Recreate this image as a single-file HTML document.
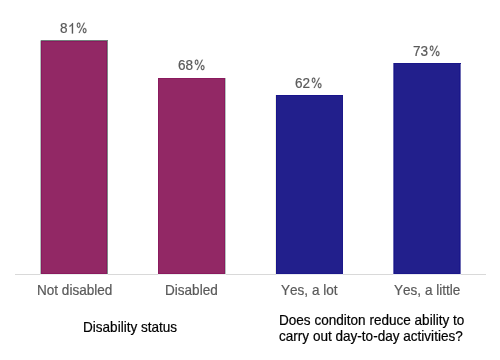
<!DOCTYPE html>
<html><head><meta charset="utf-8">
<style>
html,body{margin:0;padding:0;background:#fff;}
body{width:500px;height:360px;position:relative;overflow:hidden;font-family:"Liberation Sans",sans-serif;}
.r{position:absolute;}
.t{position:absolute;white-space:nowrap;line-height:1;font-size:13.55px;will-change:transform;transform:scaleY(1.07);transform-origin:0 11.47px;height:13.55px;}
.t i{position:absolute;top:0;font-style:normal;}
.g{color:#595959;-webkit-text-stroke:0.2px #595959;}
.k{color:#000;-webkit-text-stroke:0.2px #000;}
</style></head><body>

<!-- axis -->
<div class="r" style="left:15px;top:274px;width:471px;height:1px;background:#d9d9d9;"></div>

<!-- bar 1 -->
<div class="r" style="left:40px;top:40px;width:68px;height:234px;background:#922865;"></div>
<div class="r" style="left:41px;top:41px;width:66px;height:233px;box-shadow:inset 1px 1px 0 #8a1a5e,inset -1px -1px 0 #8a1a5e;"></div>
<div class="r" style="left:41px;top:40px;width:67px;height:1px;background:#72807b;"></div>
<div class="r" style="left:40px;top:40px;width:1px;height:1px;background:#d3dbd8;"></div>
<div class="r" style="left:40px;top:41px;width:1px;height:233px;background:#b3c1bc;"></div>
<div class="r" style="left:107px;top:41px;width:1px;height:233px;background:#7e8b87;"></div>
<div class="r" style="left:40px;top:274px;width:68px;height:1px;background:#eaefed;"></div>

<!-- bar 2 -->
<div class="r" style="left:158px;top:78px;width:67px;height:196px;background:#922865;box-shadow:inset 1px 1px 0 #8a1a5e,inset -1px -1px 0 #8a1a5e;"></div>
<div class="r" style="left:225px;top:78px;width:1px;height:196px;background:#b7c4c0;"></div>
<div class="r" style="left:158px;top:274px;width:68px;height:1px;background:#eaefed;"></div>

<!-- bar 3 -->
<div class="r" style="left:275px;top:95px;width:1px;height:179px;background:#f1f1e4;"></div>
<div class="r" style="left:276px;top:95px;width:67px;height:179px;background:#221f8c;box-shadow:inset 1px 1px 0 #18148c,inset -1px -1px 0 #1c198a;"></div>
<div class="r" style="left:276px;top:274px;width:67px;height:1px;background:#e8e8f0;"></div>

<!-- bar 4 -->
<div class="r" style="left:393px;top:63px;width:68px;height:211px;background:#221f8c;box-shadow:inset 1px 0 0 #6b69b4,inset 2px 1px 0 #1a178a,inset -1px 0 0 #6e6cb4,inset -2px -1px 0 #1a178a;"></div>
<div class="r" style="left:393px;top:274px;width:68px;height:1px;background:#e8e8f0;"></div>

<div class="t g" style="left:60.16px;top:21.53px;"><i style="left:0.00px">8</i><svg style="position:absolute;left:7.54px;top:0;overflow:visible" width="8" height="14"><path transform="translate(0,11.473) scale(0.006616,-0.006616)" d="M763 0L583 0L583 1147Q518 1085 412 1023Q306 961 222 930L222 1104Q373 1175 486 1276Q599 1377 646 1472L763 1472Z" fill="currentColor" stroke="currentColor" stroke-width="30"/></svg><svg style="position:absolute;left:15.07px;top:0;overflow:visible" width="14" height="14"><path transform="translate(0,11.473) scale(0.006616,-0.006616)" fill-rule="nonzero" d="M260 1170A285 390 0 1 0 830 1170A285 390 0 1 0 260 1170ZM405 1170A140 245 0 1 1 685 1170A140 245 0 1 1 405 1170ZM1165 410A290 370 0 1 0 1745 410A290 370 0 1 0 1165 410ZM1310 410A145 225 0 1 1 1600 410A145 225 0 1 1 1310 410ZM545 70L695 70L1490 1520L1340 1520Z" fill="currentColor" stroke="currentColor" stroke-width="30"/></svg></div>
<div class="t g" style="left:177.71px;top:58.53px;"><i style="left:0.00px">6</i><i style="left:7.54px">8</i><svg style="position:absolute;left:15.07px;top:0;overflow:visible" width="14" height="14"><path transform="translate(0,11.473) scale(0.006616,-0.006616)" fill-rule="nonzero" d="M260 1170A285 390 0 1 0 830 1170A285 390 0 1 0 260 1170ZM405 1170A140 245 0 1 1 685 1170A140 245 0 1 1 405 1170ZM1165 410A290 370 0 1 0 1745 410A290 370 0 1 0 1165 410ZM1310 410A145 225 0 1 1 1600 410A145 225 0 1 1 1310 410ZM545 70L695 70L1490 1520L1340 1520Z" fill="currentColor" stroke="currentColor" stroke-width="30"/></svg></div>
<div class="t g" style="left:295.41px;top:76.53px;"><i style="left:0.00px">6</i><i style="left:7.54px">2</i><svg style="position:absolute;left:15.07px;top:0;overflow:visible" width="14" height="14"><path transform="translate(0,11.473) scale(0.006616,-0.006616)" fill-rule="nonzero" d="M260 1170A285 390 0 1 0 830 1170A285 390 0 1 0 260 1170ZM405 1170A140 245 0 1 1 685 1170A140 245 0 1 1 405 1170ZM1165 410A290 370 0 1 0 1745 410A290 370 0 1 0 1165 410ZM1310 410A145 225 0 1 1 1600 410A145 225 0 1 1 1310 410ZM545 70L695 70L1490 1520L1340 1520Z" fill="currentColor" stroke="currentColor" stroke-width="30"/></svg></div>
<div class="t g" style="left:413.31px;top:44.53px;"><i style="left:0.00px">7</i><i style="left:7.54px">3</i><svg style="position:absolute;left:15.07px;top:0;overflow:visible" width="14" height="14"><path transform="translate(0,11.473) scale(0.006616,-0.006616)" fill-rule="nonzero" d="M260 1170A285 390 0 1 0 830 1170A285 390 0 1 0 260 1170ZM405 1170A140 245 0 1 1 685 1170A140 245 0 1 1 405 1170ZM1165 410A290 370 0 1 0 1745 410A290 370 0 1 0 1165 410ZM1310 410A145 225 0 1 1 1600 410A145 225 0 1 1 1310 410ZM545 70L695 70L1490 1520L1340 1520Z" fill="currentColor" stroke="currentColor" stroke-width="30"/></svg></div>
<div class="t g" style="left:36.69px;top:283.53px;"><i style="left:0.00px">N</i><i style="left:9.79px">o</i><i style="left:17.32px">t</i><i style="left:24.85px">d</i><i style="left:32.39px">i</i><i style="left:35.40px">s</i><i style="left:42.17px">a</i><i style="left:49.71px">b</i><i style="left:57.24px">l</i><i style="left:60.25px">e</i><i style="left:67.79px">d</i></div>
<div class="t g" style="left:164.89px;top:283.53px;"><i style="left:0.00px">D</i><i style="left:9.79px">i</i><i style="left:12.80px">s</i><i style="left:19.57px">a</i><i style="left:27.11px">b</i><i style="left:34.64px">l</i><i style="left:37.65px">e</i><i style="left:45.19px">d</i></div>
<div class="t g" style="left:280.95px;top:283.53px;"><i style="left:0.00px">Y</i><i style="left:9.04px">e</i><i style="left:16.57px">s</i><i style="left:23.35px">,</i><i style="left:30.88px">a</i><i style="left:42.18px">l</i><i style="left:45.19px">o</i><i style="left:52.72px">t</i></div>
<div class="t g" style="left:393.70px;top:283.53px;"><i style="left:0.00px">Y</i><i style="left:9.04px">e</i><i style="left:16.57px">s</i><i style="left:23.35px">,</i><i style="left:30.88px">a</i><i style="left:42.18px">l</i><i style="left:45.19px">i</i><i style="left:48.20px">t</i><i style="left:51.96px">t</i><i style="left:55.73px">l</i><i style="left:58.74px">e</i></div>
<div class="t k" style="left:82.79px;top:320.53px;"><i style="left:0.00px">D</i><i style="left:9.79px">i</i><i style="left:12.80px">s</i><i style="left:19.57px">a</i><i style="left:27.11px">b</i><i style="left:34.64px">i</i><i style="left:37.65px">l</i><i style="left:40.66px">i</i><i style="left:43.67px">t</i><i style="left:47.44px">y</i><i style="left:57.98px">s</i><i style="left:64.75px">t</i><i style="left:68.52px">a</i><i style="left:76.05px">t</i><i style="left:79.82px">u</i><i style="left:87.35px">s</i></div>
<div class="t k" style="left:278.89px;top:313.53px;"><i style="left:0.00px">D</i><i style="left:9.79px">o</i><i style="left:17.32px">e</i><i style="left:24.86px">s</i><i style="left:35.40px">c</i><i style="left:42.17px">o</i><i style="left:49.71px">n</i><i style="left:57.24px">d</i><i style="left:64.78px">i</i><i style="left:67.79px">t</i><i style="left:71.55px">o</i><i style="left:79.09px">n</i><i style="left:90.39px">r</i><i style="left:94.90px">e</i><i style="left:102.44px">d</i><i style="left:109.97px">u</i><i style="left:117.51px">c</i><i style="left:124.29px">e</i><i style="left:135.59px">a</i><i style="left:143.12px">b</i><i style="left:150.66px">i</i><i style="left:153.67px">l</i><i style="left:156.68px">i</i><i style="left:159.69px">t</i><i style="left:163.45px">y</i><i style="left:173.99px">t</i><i style="left:177.76px">o</i></div>
<div class="t k" style="left:279.22px;top:329.53px;"><i style="left:0.00px">c</i><i style="left:6.78px">a</i><i style="left:14.31px">r</i><i style="left:18.82px">r</i><i style="left:23.34px">y</i><i style="left:33.88px">o</i><i style="left:41.41px">u</i><i style="left:48.95px">t</i><i style="left:56.48px">d</i><i style="left:64.01px">a</i><i style="left:71.55px">y</i><i style="left:78.32px">-</i><i style="left:82.83px">t</i><i style="left:86.60px">o</i><i style="left:94.14px">-</i><i style="left:98.65px">d</i><i style="left:106.18px">a</i><i style="left:113.72px">y</i><i style="left:124.26px">a</i><i style="left:131.79px">c</i><i style="left:138.57px">t</i><i style="left:142.33px">i</i><i style="left:145.34px">v</i><i style="left:152.12px">i</i><i style="left:155.13px">t</i><i style="left:158.89px">i</i><i style="left:161.91px">e</i><i style="left:169.44px">s</i><i style="left:176.22px">?</i></div>
</body></html>
